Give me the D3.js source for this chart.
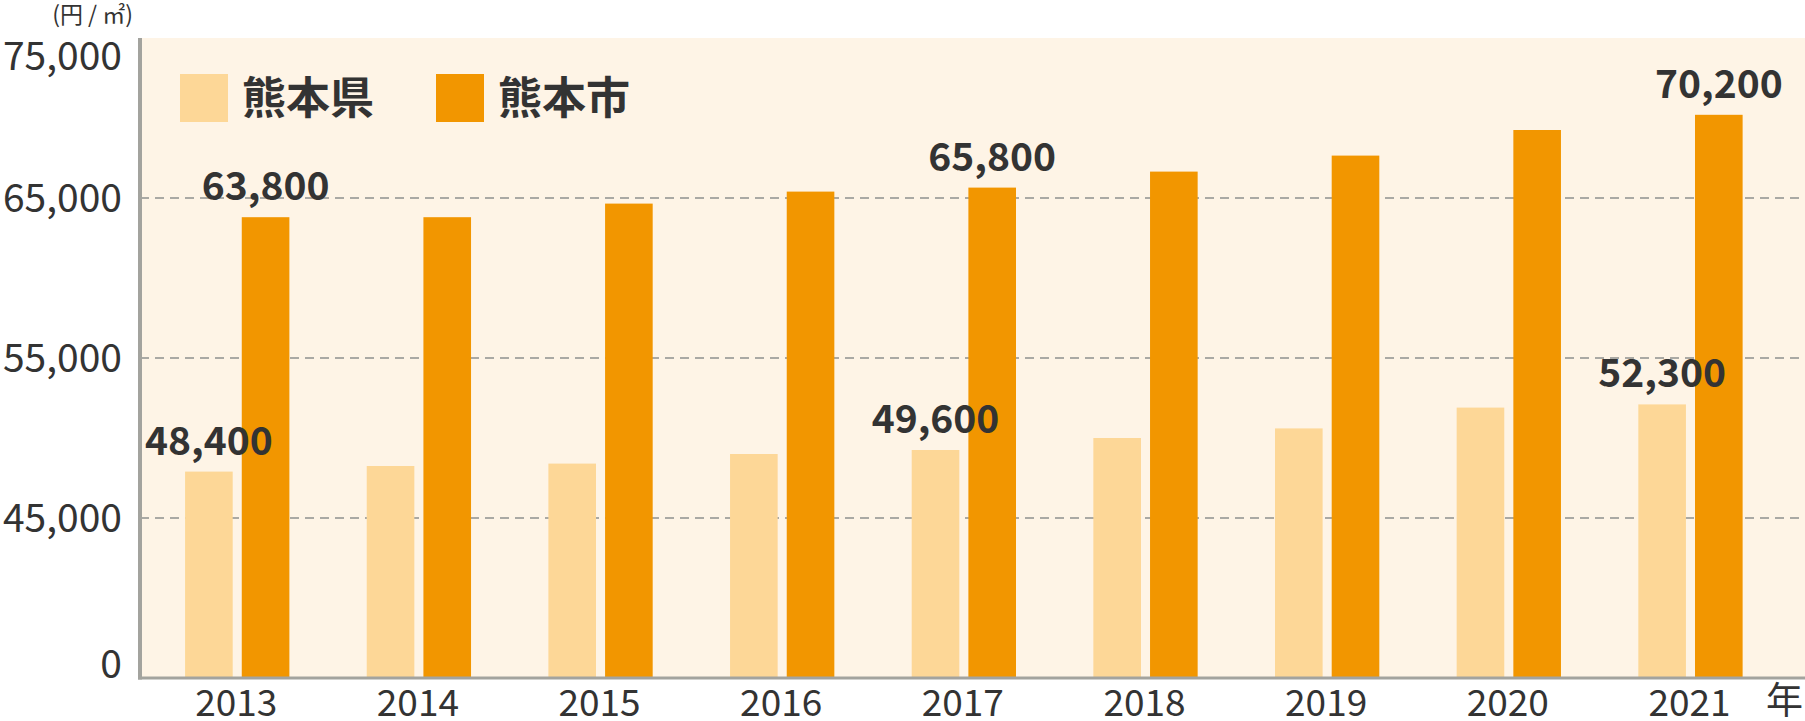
<!DOCTYPE html>
<html>
<head>
<meta charset="utf-8">
<script src="https://cdn.jsdelivr.net/npm/d3@7"></script>
<style>
  body { margin: 0; background: #fff; }
  text { font-family: 'Noto Sans CJK JP', 'Noto Sans', sans-serif; fill: #333; }
</style>
</head>
<body>
<div id="chart"></div>
<script>
var years = [2013, 2014, 2015, 2016, 2017, 2018, 2019, 2020, 2021]
var series = ['熊本県', '熊本市']

// 円/㎡
var prefValues = [47900, 48250, 48400, 49000, 49250, 50000, 50600, 51900, 52100]
var cityValues = [63800, 63800, 64650, 65400, 65650, 66650, 67650, 69250, 70200]

// only some bars carry a value label
var barLabels = [
  {year: 2013, s: 0, text: '48,400'},
  {year: 2013, s: 1, text: '63,800'},
  {year: 2017, s: 0, text: '49,600'},
  {year: 2017, s: 1, text: '65,800'},
  {year: 2021, s: 0, text: '52,300'},
  {year: 2021, s: 1, text: '70,200'},
]

// broken axis: 0 then 45,000 – 75,000
var yTicks = [0, 45000, 55000, 65000, 75000]

var color = ['#fdd797', '#f29600']
var bgcolor = '#fef4e6'
var axisColor = '#a3a39e'

var width = 1805, height = 721
var plotL = 140, plotT = 38, plotB = 678, plotR = 1805

var svg = d3.select('#chart').append('svg')
  .attr('width', width)
  .attr('height', height)

var y = d3.scaleLinear()
  .domain([0, 45000, 75000])
  .range([plotB, plotB - 160, plotT])

var x0 = d3.scaleBand()
  .domain(years)
  .range([146.4, 1781.3])

var groupW = 104.3
var x1 = d3.scaleBand()
  .domain([0, 1])
  .range([0, groupW])
  .paddingInner(0.16)

var gx = d => x0(d) + (x0.bandwidth() - groupW) / 2

svg.append('rect')
  .attr('x', plotL).attr('y', plotT)
  .attr('width', plotR - plotL).attr('height', plotB - plotT)
  .attr('fill', bgcolor)

// dashed grid
svg.selectAll('line.grid')
  .data(yTicks.slice(1, -1))
  .join('line')
  .attr('class', 'grid')
  .attr('x1', plotL).attr('x2', plotR)
  .attr('y1', y).attr('y2', y)
  .attr('stroke', '#aaa9a4')
  .attr('stroke-width', 2)
  .attr('stroke-dasharray', '9 6')

var data = years.map((year, i) => ({year, values: [prefValues[i], cityValues[i]]}))

var group = svg.selectAll('g.year')
  .data(data)
  .join('g')
  .attr('class', 'year')
  .attr('transform', d => `translate(${gx(d.year)},0)`)

group.selectAll('rect')
  .data(d => d.values)
  .join('rect')
  .attr('x', (d, i) => x1(i))
  .attr('width', x1.bandwidth())
  .attr('y', d => y(d))
  .attr('height', d => y(0) - y(d))
  .attr('fill', (d, i) => color[i])

svg.selectAll('text.val')
  .data(barLabels)
  .join('text')
  .attr('class', 'val')
  .attr('x', d => gx(d.year) + x1(d.s) + x1.bandwidth() / 2)
  .attr('y', d => y(data[years.indexOf(d.year)].values[d.s]) - 17)
  .attr('text-anchor', 'middle')
  .style('font-size', '39px')
  .style('font-weight', 'bold')
  .text(d => d.text)

// axes
svg.append('line')
  .attr('x1', plotL).attr('x2', plotL)
  .attr('y1', plotT).attr('y2', plotB + 1.5)
  .attr('stroke', axisColor).attr('stroke-width', 4)
svg.append('line')
  .attr('x1', plotL - 2).attr('x2', plotR)
  .attr('y1', plotB).attr('y2', plotB)
  .attr('stroke', axisColor).attr('stroke-width', 3)

svg.selectAll('text.ytick')
  .data(yTicks)
  .join('text')
  .attr('class', 'ytick')
  .attr('x', 122)
  .attr('y', y)
  .attr('dy', (d, i) => i == 0 ? 0 : i == yTicks.length - 1 ? 32 : 14)
  .attr('text-anchor', 'end')
  .style('font-size', '39px')
  .text(d3.format(','))

svg.selectAll('text.xtick')
  .data(years)
  .join('text')
  .attr('class', 'xtick')
  .attr('x', d => x0(d) + x0.bandwidth() / 2 - 1)
  .attr('y', plotB + 38)
  .attr('text-anchor', 'middle')
  .style('font-size', '37px')
  .text(d => d)

svg.append('text')
  .attr('x', 1803).attr('y', 714)
  .attr('text-anchor', 'end')
  .style('font-size', '37px')
  .text('年')

svg.append('text')
  .attr('x', 133).attr('y', 23)
  .attr('text-anchor', 'end')
  .style('font-size', '23px')
  .text('(円 / ㎡)')

// legend
var legend = svg.selectAll('g.legend')
  .data(series)
  .join('g')
  .attr('class', 'legend')
  .attr('transform', (d, i) => `translate(${180 + i * 256},74)`)

legend.append('rect')
  .attr('width', 48).attr('height', 48)
  .attr('fill', (d, i) => color[i])

legend.append('text')
  .attr('x', 62).attr('y', 24)
  .attr('dy', '.36em')
  .style('font-size', '44px')
  .style('font-weight', 'bold')
  .text(d => d)
</script>
</body>
</html>
